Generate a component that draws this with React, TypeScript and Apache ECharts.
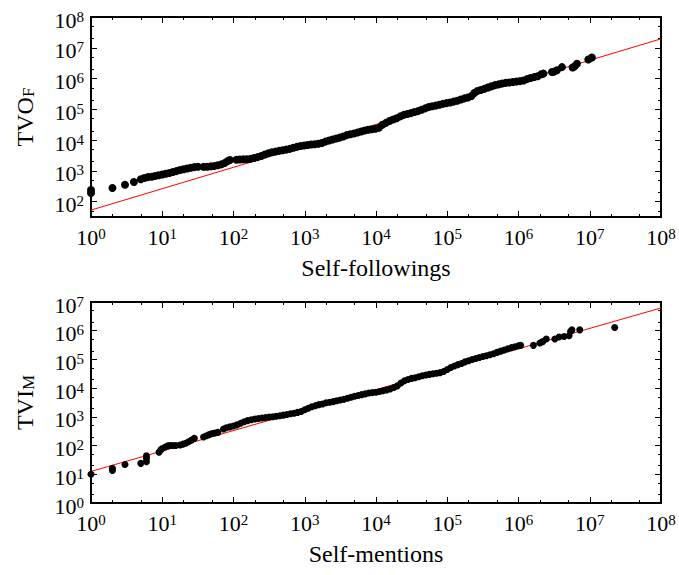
import React, { useEffect, useRef } from 'react';
import * as echarts from 'echarts';

// ---- tick exponents ----
const xTickExps = [0, 1, 2, 3, 4, 5, 6, 7, 8];
const topYTickExps = [2, 3, 4, 5, 6, 7, 8];
const botYTickExps = [0, 1, 2, 3, 4, 5, 6, 7];
const minorFactors = [2, 5];

// ---- top panel: self-followings vs TVO_F ----
const followX = [1, 1, 2, 3, 4, 5, 5.6, 6.3, 7.1, 7.9, 8.9, 10, 11.2, 12.6, 14.1, 15.8, 17.8, 20, 22.4, 25.1, 28.2, 31.6, 38, 42.7, 47.9, 53.7, 60.3, 67.6, 75.9, 83.2, 89.1, 110, 123, 138, 155, 174, 195, 219, 245, 275, 309, 347, 389, 437, 490, 550, 617, 692, 776, 871, 977, 1096, 1230, 1380, 1549, 1738, 1950, 2188, 2455, 2754, 3090, 3467, 3890, 4365, 4898, 5495, 6166, 6918, 7762, 8710, 9772, 10960, 12300, 13800, 15490, 17380, 19500, 21880, 24550, 27540, 30900, 34670, 38900, 43650, 48980, 54950, 61660, 69180, 77620, 87100, 97720, 109600, 123000, 138000, 154900, 173800, 195000, 218800, 239900, 263000, 295100, 331100, 371500, 416900, 467700, 524800, 588800, 660700, 741300, 831800, 933300, 1047000, 1175000, 1318000, 1479000, 1660000, 1862000, 2089000, 2239000, 2951000, 3162000, 3467000, 4074000, 5754000, 6166000, 6607000, 9550000, 10720000];
const followY = [190, 237, 276, 355, 433, 531, 589, 624, 646, 676, 716, 759, 804, 851, 912, 977, 1059, 1122, 1189, 1259, 1318, 1365, 1349, 1365, 1396, 1445, 1514, 1622, 1820, 2089, 2239, 2291, 2344, 2371, 2371, 2455, 2600, 2786, 3020, 3388, 3715, 4027, 4217, 4467, 4677, 4898, 5188, 5623, 6026, 6383, 6683, 6918, 7161, 7328, 7586, 8035, 8913, 9661, 10470, 11220, 12020, 13030, 14450, 15490, 16410, 17580, 19050, 20420, 21630, 22390, 23440, 25120, 31620, 36310, 41690, 46770, 51290, 58880, 66070, 70790, 74990, 81280, 87100, 96610, 107200, 118900, 125900, 131800, 141300, 151400, 158500, 166000, 177800, 190500, 208900, 226500, 242700, 269200, 338800, 389000, 426600, 462400, 512900, 562300, 609500, 645700, 691800, 724400, 741300, 767400, 794300, 822400, 861000, 955000, 1035000, 1109000, 1189000, 1380000, 1445000, 1622000, 1679000, 1862000, 2344000, 2291000, 2512000, 3020000, 4169000, 4842000];
const fitFollowX = [1, 1e8];
const fitFollowY = [53, 1.95e7];

// ---- bottom panel: self-mentions vs TVI_M ----
const mentionX = [1, 2, 2, 3, 5, 6, 6, 6, 9, 9.55, 10, 11, 12, 12.9, 14.1, 15.5, 17.8, 19.5, 21.4, 23.4, 25.7, 28.2, 38, 41.7, 45.7, 50.1, 55, 60.3, 72.4, 79.4, 89.1, 100, 112, 126, 141, 158, 178, 200, 224, 251, 282, 316, 355, 398, 447, 501, 562, 631, 708, 794, 891, 1000, 1122, 1259, 1413, 1585, 1778, 1995, 2239, 2512, 2818, 3162, 3548, 3981, 4467, 5012, 5623, 6310, 7079, 7943, 8913, 10000, 11220, 12590, 14130, 15850, 17780, 19950, 22390, 25120, 28180, 31620, 35480, 39810, 44670, 50120, 56230, 63100, 70790, 79430, 89130, 100000, 112200, 125900, 141300, 158500, 177800, 199500, 223900, 251200, 281800, 316200, 354800, 398100, 446700, 501200, 562300, 631000, 707900, 794300, 891300, 1000000, 1072000, 1622000, 1995000, 2188000, 2455000, 3236000, 3715000, 4365000, 5129000, 5370000, 5623000, 7244000, 22390000];
const mentionY = [10, 13.5, 16.2, 21.9, 24, 27.5, 35.5, 43.7, 58.9, 70.8, 79.4, 89.1, 97.7, 100, 100, 100, 105, 112, 120, 135, 155, 178, 200, 219, 240, 263, 275, 288, 380, 417, 447, 479, 525, 603, 676, 741, 794, 841, 881, 912, 955, 989, 1012, 1047, 1096, 1148, 1216, 1274, 1334, 1429, 1531, 1778, 1995, 2265, 2455, 2661, 2818, 3090, 3236, 3388, 3631, 3846, 4074, 4467, 4842, 5188, 5559, 5957, 6310, 6761, 7000, 7244, 7586, 8128, 8710, 9333, 10470, 12020, 15140, 17990, 19950, 21880, 23170, 24830, 26920, 28840, 30200, 31620, 33110, 34670, 38020, 44670, 52480, 58880, 66070, 72440, 82220, 90160, 100000, 108400, 116100, 125900, 134900, 146200, 156700, 175800, 195000, 213800, 234400, 257000, 275400, 298500, 309000, 309000, 371500, 416900, 512900, 512900, 602600, 631000, 668300, 944100, 1072000, 1072000, 1303000];
const fitMentionX = [1, 1e8];
const fitMentionY = [12.6, 6.2e6];

const FONT = "'Liberation Serif', 'Times New Roman', serif";
const lg = Math.log10;

function pairs(xs: number[], ys: number[]) {
  return xs.map((x, i) => [lg(x), lg(ys[i])]);
}

function minorTicks(lo: number, hi: number) {
  const out: number[] = [];
  for (let k = Math.floor(lo) - 1; k <= Math.ceil(hi); k++) {
    for (const f of minorFactors) {
      const v = k + lg(f);
      if (v > lo + 1e-9 && v < hi - 1e-9) out.push(v);
    }
  }
  return out;
}

const labelRich = {
  b: { fontSize: 22, lineHeight: 22, fontFamily: FONT, color: '#000', verticalAlign: 'bottom' },
  s: { fontSize: 15, lineHeight: 15, fontFamily: FONT, color: '#000', verticalAlign: 'top', padding: [0, 0, 12, 0] },
};
const fmt = (v: number) => `{b|10}{s|${Math.round(v)}}`;

const nameRich = {
  t: { fontSize: 24, lineHeight: 24, fontFamily: FONT, color: '#000', verticalAlign: 'top' },
  sub: { fontSize: 17, lineHeight: 17, fontFamily: FONT, color: '#000', verticalAlign: 'bottom', padding: [10, 0, 0, 0] },
};

const tickStyle = { color: '#000', width: 1 };

function makeXAxes(grid: number, name: string, lo: number, hi: number, majors: number[]) {
  const minors = minorTicks(lo, hi);
  const base = {
    type: 'value', gridIndex: grid, min: lo, max: hi,
    splitLine: { show: false },
    axisLine: { show: false, onZero: false },
  };
  return [
    {
      ...base, position: 'bottom',
      name, nameLocation: 'middle', nameGap: 39,
      nameTextStyle: { fontSize: 24, fontFamily: FONT, color: '#000' },
      axisTick: { show: true, inside: true, length: 6, customValues: majors, lineStyle: tickStyle },
      axisLabel: { show: true, customValues: majors, formatter: fmt, rich: labelRich, margin: 9, hideOverlap: false },
    },
    { ...base, position: 'bottom', axisTick: { show: true, inside: true, length: 3, customValues: minors, lineStyle: tickStyle }, axisLabel: { show: false } },
    { ...base, position: 'top', axisTick: { show: true, inside: true, length: 6, customValues: majors, lineStyle: tickStyle }, axisLabel: { show: false } },
    { ...base, position: 'top', axisTick: { show: true, inside: true, length: 3, customValues: minors, lineStyle: tickStyle }, axisLabel: { show: false } },
  ];
}

function makeYAxes(grid: number, name: string, lo: number, hi: number, majors: number[]) {
  const minors = minorTicks(lo, hi);
  const base = {
    type: 'value', gridIndex: grid, min: lo, max: hi,
    splitLine: { show: false },
    axisLine: { show: false, onZero: false },
  };
  return [
    {
      ...base, position: 'left',
      name, nameLocation: 'middle', nameGap: 54, nameRotate: 90,
      nameTextStyle: { rich: nameRich },
      axisTick: { show: true, inside: true, length: 6, customValues: majors, lineStyle: tickStyle },
      axisLabel: { show: true, customValues: majors, formatter: fmt, rich: labelRich, margin: 7, padding: [6, 0, 0, 0], hideOverlap: false },
    },
    { ...base, position: 'left', axisTick: { show: true, inside: true, length: 3, customValues: minors, lineStyle: tickStyle }, axisLabel: { show: false } },
    { ...base, position: 'right', axisTick: { show: true, inside: true, length: 6, customValues: majors, lineStyle: tickStyle }, axisLabel: { show: false } },
    { ...base, position: 'right', axisTick: { show: true, inside: true, length: 3, customValues: minors, lineStyle: tickStyle }, axisLabel: { show: false } },
  ];
}

function buildOption() {
  const gridBase = {
    left: 91, width: 570, show: true, borderColor: '#000', borderWidth: 2,
    backgroundColor: 'transparent', containLabel: false, outerBoundsMode: 'none',
  };
  return {
    animation: false,
    backgroundColor: '#fff',
    grid: [
      { ...gridBase, top: 17, height: 200 },
      { ...gridBase, top: 302, height: 201 },
    ],
    xAxis: [
      ...makeXAxes(0, 'Self-followings', 0, 8, xTickExps),
      ...makeXAxes(1, 'Self-mentions', 0, 8, xTickExps),
    ],
    yAxis: [
      ...makeYAxes(0, '{t|TVO}{sub|F}', 1.5, 8, topYTickExps),
      ...makeYAxes(1, '{t|TVI}{sub|M}', 0, 7, botYTickExps),
    ],
    series: [
      {
        type: 'line', xAxisIndex: 0, yAxisIndex: 0, data: pairs(fitFollowX, fitFollowY),
        symbol: 'none', silent: true, lineStyle: { color: '#ff0000', width: 1 }, z: 2,
      },
      {
        type: 'scatter', xAxisIndex: 0, yAxisIndex: 0, data: pairs(followX, followY),
        symbol: 'circle', symbolSize: 8, clip: false, itemStyle: { color: '#000', opacity: 1 }, z: 3,
      },
      {
        type: 'line', xAxisIndex: 4, yAxisIndex: 4, data: pairs(fitMentionX, fitMentionY),
        symbol: 'none', silent: true, lineStyle: { color: '#ff0000', width: 1 }, z: 2,
      },
      {
        type: 'scatter', xAxisIndex: 4, yAxisIndex: 4, data: pairs(mentionX, mentionY),
        symbol: 'circle', symbolSize: 7, clip: false, itemStyle: { color: '#000', opacity: 1 }, z: 3,
      },
    ],
  };
}

export default function App() {
  const ref = useRef<HTMLDivElement>(null);
  useEffect(() => {
    document.body.style.margin = '0';
    const chart = echarts.init(ref.current as HTMLDivElement, null, { renderer: 'svg' });
    chart.setOption(buildOption() as any);
    return () => chart.dispose();
  }, []);
  return <div ref={ref} style={{ width: 679, height: 575, background: '#fff' }} />;
}
